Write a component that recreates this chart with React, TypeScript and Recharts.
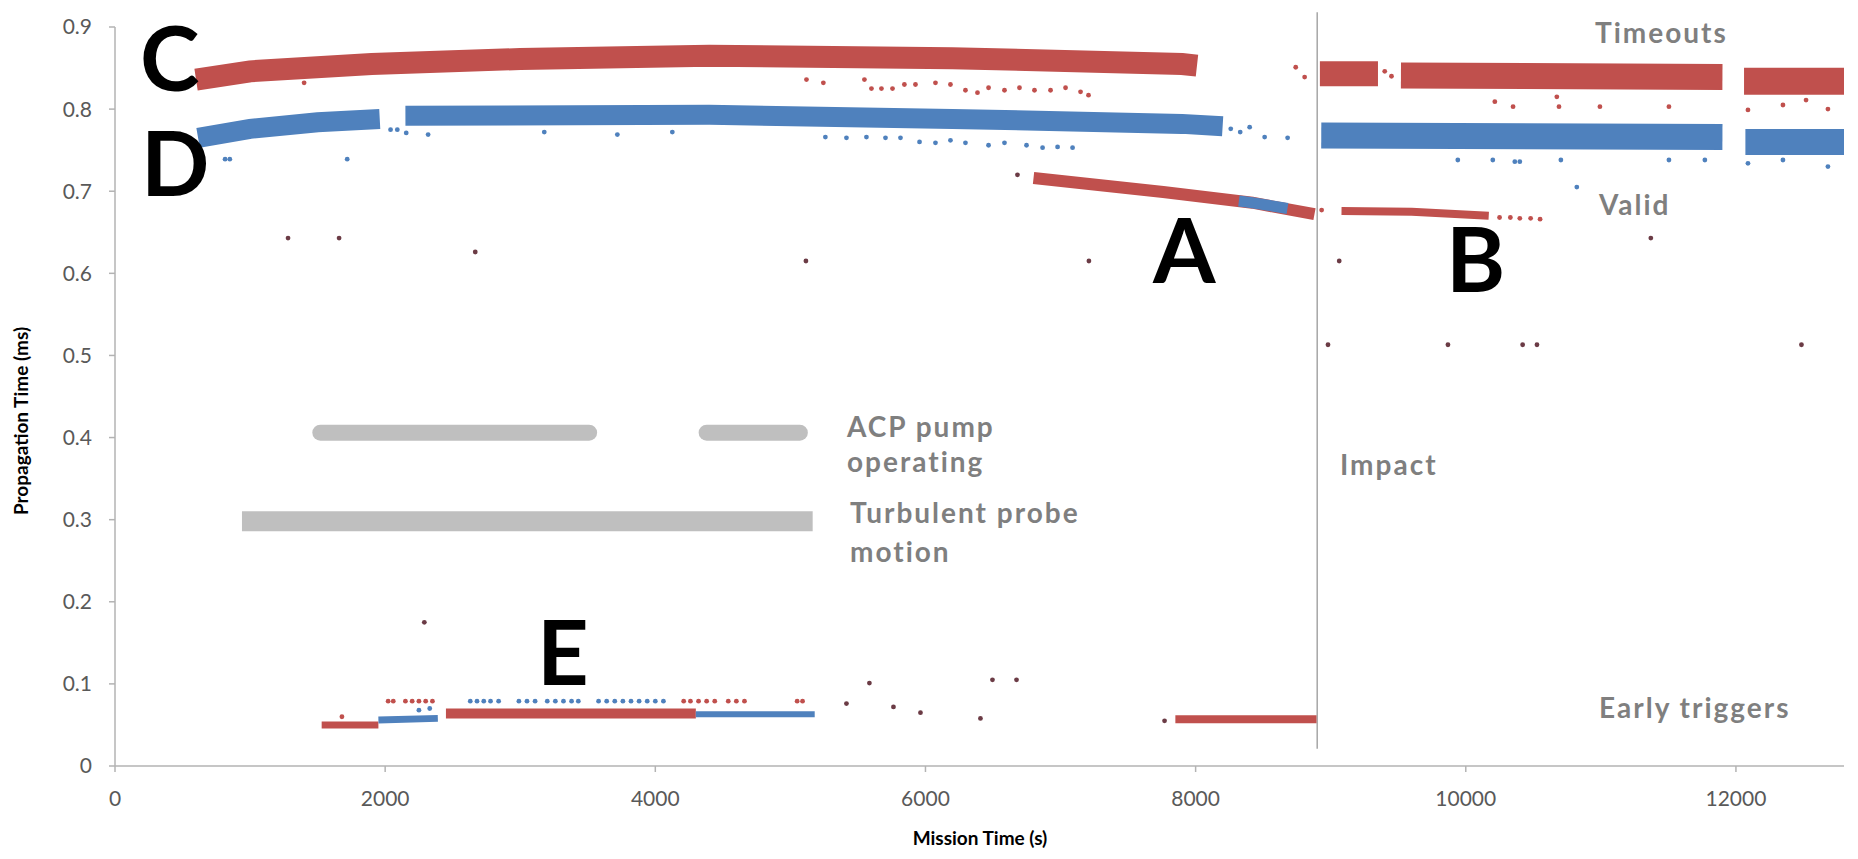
import React from 'react';
import { ComposedChart, Line, Scatter, XAxis, YAxis, ReferenceLine } from 'recharts';

type Pt = [number, number];
const toXY = (arr: Pt[]) => arr.map(([x, y]) => ({ x, y }));

// dense bands (read as band centre lines)
const timeoutsBefore: Pt[] = [[600, 0.836], [1000, 0.846], [1900, 0.855], [3000, 0.861], [4400, 0.865], [6200, 0.862], [7900, 0.855], [8010, 0.853]];
const validBefore1: Pt[] = [[615, 0.765], [1000, 0.776], [1500, 0.784], [1960, 0.788]];
const validBefore2: Pt[] = [[2150, 0.792], [4400, 0.793], [6200, 0.788], [7900, 0.782], [8200, 0.779]];
const timeoutsAfter1: Pt[] = [[8920, 0.843], [9350, 0.843]];
const timeoutsAfter2: Pt[] = [[9520, 0.841], [11900, 0.839]];
const timeoutsAfter3: Pt[] = [[12060, 0.834], [12800, 0.834]];
const validAfter1: Pt[] = [[8930, 0.768], [11900, 0.766]];
const validAfter2: Pt[] = [[12070, 0.760], [12800, 0.760]];
const bandA: Pt[] = [[6800, 0.716], [7760, 0.699], [8420, 0.686], [8880, 0.672]];
const bandABlue: Pt[] = [[8320, 0.688], [8420, 0.686], [8680, 0.679]];
const bandB: Pt[] = [[9080, 0.676], [9600, 0.675], [10170, 0.670]];
const earlyRedLow: Pt[] = [[1530, 0.050], [1950, 0.050]];
const earlyBlueLow: Pt[] = [[1950, 0.056], [2390, 0.058]];
const earlyRedMain: Pt[] = [[2450, 0.064], [4300, 0.064]];
const earlyBlueMain: Pt[] = [[4300, 0.063], [5180, 0.063]];
const earlyRedImpact: Pt[] = [[7850, 0.057], [8895, 0.057]];

// annotation bars
const acpPump1: Pt[] = [[1520, 0.406], [3510, 0.406]];
const acpPump2: Pt[] = [[4380, 0.406], [5070, 0.406]];
const turbulent: Pt[] = [[940, 0.298], [5165, 0.298]];

// sparse points
const redDots: Pt[] = [
  [1400, 0.832], [5119, 0.836], [5244, 0.832], [5548, 0.836], [5600, 0.825], [5674, 0.825], [5756, 0.825],
  [5844, 0.830], [5926, 0.830], [6074, 0.832], [6185, 0.830], [6296, 0.823], [6385, 0.820], [6467, 0.826],
  [6585, 0.823], [6696, 0.826], [6807, 0.823], [6926, 0.823], [7037, 0.826], [7148, 0.821], [7207, 0.817],
  [8741, 0.851], [8807, 0.839], [9400, 0.846], [9450, 0.840],
  [10215, 0.809], [10350, 0.803], [10674, 0.815], [10690, 0.803], [10993, 0.803], [11504, 0.803],
  [12089, 0.799], [12348, 0.805], [12519, 0.811], [12681, 0.800],
  [10250, 0.668], [10330, 0.668], [10400, 0.667], [10480, 0.667], [10550, 0.666], [8933, 0.677],
  [2022, 0.079], [2060, 0.079], [2150, 0.079], [2200, 0.079], [2250, 0.079], [2300, 0.079], [2350, 0.079],
  [4210, 0.079], [4260, 0.079], [4320, 0.079], [4380, 0.079], [4440, 0.079], [4540, 0.079], [4600, 0.079],
  [4660, 0.079], [5050, 0.079], [5090, 0.079], [1680, 0.060],
];
const blueDots: Pt[] = [
  [815, 0.739], [850, 0.739], [1719, 0.739], [2040, 0.775], [2090, 0.775], [2156, 0.771], [2318, 0.769],
  [3178, 0.772], [3719, 0.769], [4126, 0.772],
  [5259, 0.766], [5415, 0.765], [5563, 0.766], [5704, 0.765], [5815, 0.765], [5956, 0.760], [6074, 0.759],
  [6185, 0.762], [6296, 0.759], [6467, 0.756], [6585, 0.759], [6748, 0.756], [6867, 0.753], [6978, 0.754],
  [7089, 0.753], [8260, 0.776], [8330, 0.772], [8400, 0.778], [8511, 0.766], [8681, 0.765],
  [9941, 0.738], [10200, 0.738], [10363, 0.736], [10400, 0.736], [10704, 0.738], [11504, 0.738],
  [11770, 0.738], [12089, 0.734], [12348, 0.738], [12681, 0.730], [10822, 0.705],
  [2630, 0.079], [2680, 0.079], [2730, 0.079], [2780, 0.079], [2840, 0.079], [2990, 0.079], [3050, 0.079],
  [3110, 0.079], [3200, 0.079], [3260, 0.079], [3320, 0.079], [3380, 0.079], [3430, 0.079], [3580, 0.079],
  [3640, 0.079], [3700, 0.079], [3760, 0.079], [3820, 0.079], [3880, 0.079], [3940, 0.079], [4000, 0.079],
  [4060, 0.079], [2250, 0.068], [2330, 0.070],
];
const darkDots: Pt[] = [
  [1281, 0.643], [1659, 0.643], [2667, 0.626], [5115, 0.615], [7210, 0.615], [9063, 0.615], [11370, 0.643],
  [2290, 0.175], [5585, 0.101], [6496, 0.105], [6674, 0.105], [6681, 0.720],
  [8980, 0.513], [9868, 0.513], [10421, 0.513], [10527, 0.513], [12485, 0.513],
  [5415, 0.076], [5763, 0.072], [5963, 0.065], [6407, 0.058], [7770, 0.055],
];

const xTicks = [0, 2000, 4000, 6000, 8000, 10000, 12000];
const yTicks = [0, 0.1, 0.2, 0.3, 0.4, 0.5, 0.6, 0.7, 0.8, 0.9];
const IMPACT_TIME = 8900;

const RED = '#c0504d';
const BLUE = '#4f81bd';
const BAR_GRAY = '#bfbfbf';
const TEXT_GRAY = '#7f7f7f';

const bands = [
  { name: 'timeoutsBefore', data: timeoutsBefore, color: RED, width: 22 },
  { name: 'validBefore1', data: validBefore1, color: BLUE, width: 20 },
  { name: 'validBefore2', data: validBefore2, color: BLUE, width: 20 },
  { name: 'timeoutsAfter1', data: timeoutsAfter1, color: RED, width: 25 },
  { name: 'timeoutsAfter2', data: timeoutsAfter2, color: RED, width: 26 },
  { name: 'timeoutsAfter3', data: timeoutsAfter3, color: RED, width: 27 },
  { name: 'validAfter1', data: validAfter1, color: BLUE, width: 26 },
  { name: 'validAfter2', data: validAfter2, color: BLUE, width: 26 },
  { name: 'bandA', data: bandA, color: RED, width: 12 },
  { name: 'bandABlue', data: bandABlue, color: BLUE, width: 11 },
  { name: 'bandB', data: bandB, color: RED, width: 8 },
  { name: 'earlyRedLow', data: earlyRedLow, color: RED, width: 7 },
  { name: 'earlyBlueLow', data: earlyBlueLow, color: BLUE, width: 7 },
  { name: 'earlyRedMain', data: earlyRedMain, color: RED, width: 10 },
  { name: 'earlyBlueMain', data: earlyBlueMain, color: BLUE, width: 6 },
  { name: 'earlyRedImpact', data: earlyRedImpact, color: RED, width: 8 },
];

const bars = [
  { name: 'acp1', data: acpPump1, width: 16, cap: 'round' },
  { name: 'acp2', data: acpPump2, width: 16, cap: 'round' },
  { name: 'turb', data: turbulent, width: 20, cap: 'butt' },
];

const dotShape = (color: string, r: number) => (props: any) =>
  <circle cx={props.cx} cy={props.cy} r={r} fill={color} />;

const tickStyle = { fontFamily: 'Lato', fontSize: 21, fill: '#595959' };

const letterStyle = { fontFamily: 'Lato', fontSize: 90, fontWeight: 700, fill: '#000' };
const noteStyle = { fontFamily: 'Lato', fontSize: 28, fontWeight: 700, fill: TEXT_GRAY, letterSpacing: 2 };

export default function App() {
  return (
    <div style={{ position: 'absolute', left: 0, top: 0, width: 1858, height: 859, background: '#fff' }}>
      <ComposedChart width={1858} height={859} margin={{ top: 27, right: 14, bottom: 0, left: 0 }}>
        <XAxis
          type="number"
          dataKey="x"
          domain={[0, 12800]}
          ticks={xTicks}
          allowDataOverflow
          height={93}
          stroke="#b3b3b3"
          strokeWidth={1.5}
          tickSize={6}
          tickMargin={19}
          tick={tickStyle}
        />
        <YAxis
          type="number"
          dataKey="y"
          domain={[0, 0.9]}
          ticks={yTicks}
          allowDataOverflow
          width={115}
          stroke="#b3b3b3"
          strokeWidth={1.5}
          tickSize={6}
          tickMargin={17}
          tick={tickStyle}
          tickFormatter={(v: number) => (v === 0 ? '0' : v.toFixed(1))}
        />
        <ReferenceLine
          segment={[{ x: IMPACT_TIME, y: 0.021 }, { x: IMPACT_TIME, y: 0.918 }]}
          stroke="#a6a6a6"
          strokeWidth={1.5}
          ifOverflow="visible"
        />
        {bars.map((b) => (
          <Line
            key={b.name}
            data={toXY(b.data)}
            dataKey="y"
            stroke={BAR_GRAY}
            strokeWidth={b.width}
            strokeLinecap={b.cap as any}
            dot={false}
            activeDot={false}
            isAnimationActive={false}
          />
        ))}
        {bands.map((b) => (
          <Line
            key={b.name}
            data={toXY(b.data)}
            dataKey="y"
            stroke={b.color}
            strokeWidth={b.width}
            strokeLinecap="butt"
            dot={false}
            activeDot={false}
            isAnimationActive={false}
          />
        ))}
        <Scatter data={toXY(redDots)} dataKey="y" shape={dotShape(RED, 2.4)} isAnimationActive={false} />
        <Scatter data={toXY(blueDots)} dataKey="y" shape={dotShape(BLUE, 2.4)} isAnimationActive={false} />
        <Scatter data={toXY(darkDots)} dataKey="y" shape={dotShape('#6b3b45', 2.4)} isAnimationActive={false} />
      </ComposedChart>

      <svg width={1858} height={859} style={{ position: 'absolute', left: 0, top: 0, pointerEvents: 'none' }}>
        <text x={140} y={91} style={letterStyle}>C</text>
        <text x={141} y={196} style={letterStyle}>D</text>
        <text x={1153} y={283} style={letterStyle}>A</text>
        <text x={1446} y={292} style={letterStyle}>B</text>
        <text x={537} y={685} style={letterStyle}>E</text>

        <text x={1595} y={43} style={noteStyle}>Timeouts</text>
        <text x={1599} y={215} style={noteStyle}>Valid</text>
        <text x={1599} y={718} style={noteStyle}>Early triggers</text>
        <text x={1340} y={475} style={noteStyle}>Impact</text>
        <text x={847} y={437} style={noteStyle}>ACP pump</text>
        <text x={847} y={472} style={noteStyle}>operating</text>
        <text x={850} y={523} style={noteStyle}>Turbulent probe</text>
        <text x={850} y={562} style={noteStyle}>motion</text>

        <text x={980} y={845} textAnchor="middle" style={{ fontFamily: 'Lato', fontSize: 19, fontWeight: 700, fill: '#000' }}>
          Mission Time (s)
        </text>
        <text
          transform="translate(28,421) rotate(-90)"
          textAnchor="middle"
          style={{ fontFamily: 'Lato', fontSize: 19, fontWeight: 700, fill: '#000' }}
        >
          Propagation Time (ms)
        </text>
      </svg>
    </div>
  );
}
